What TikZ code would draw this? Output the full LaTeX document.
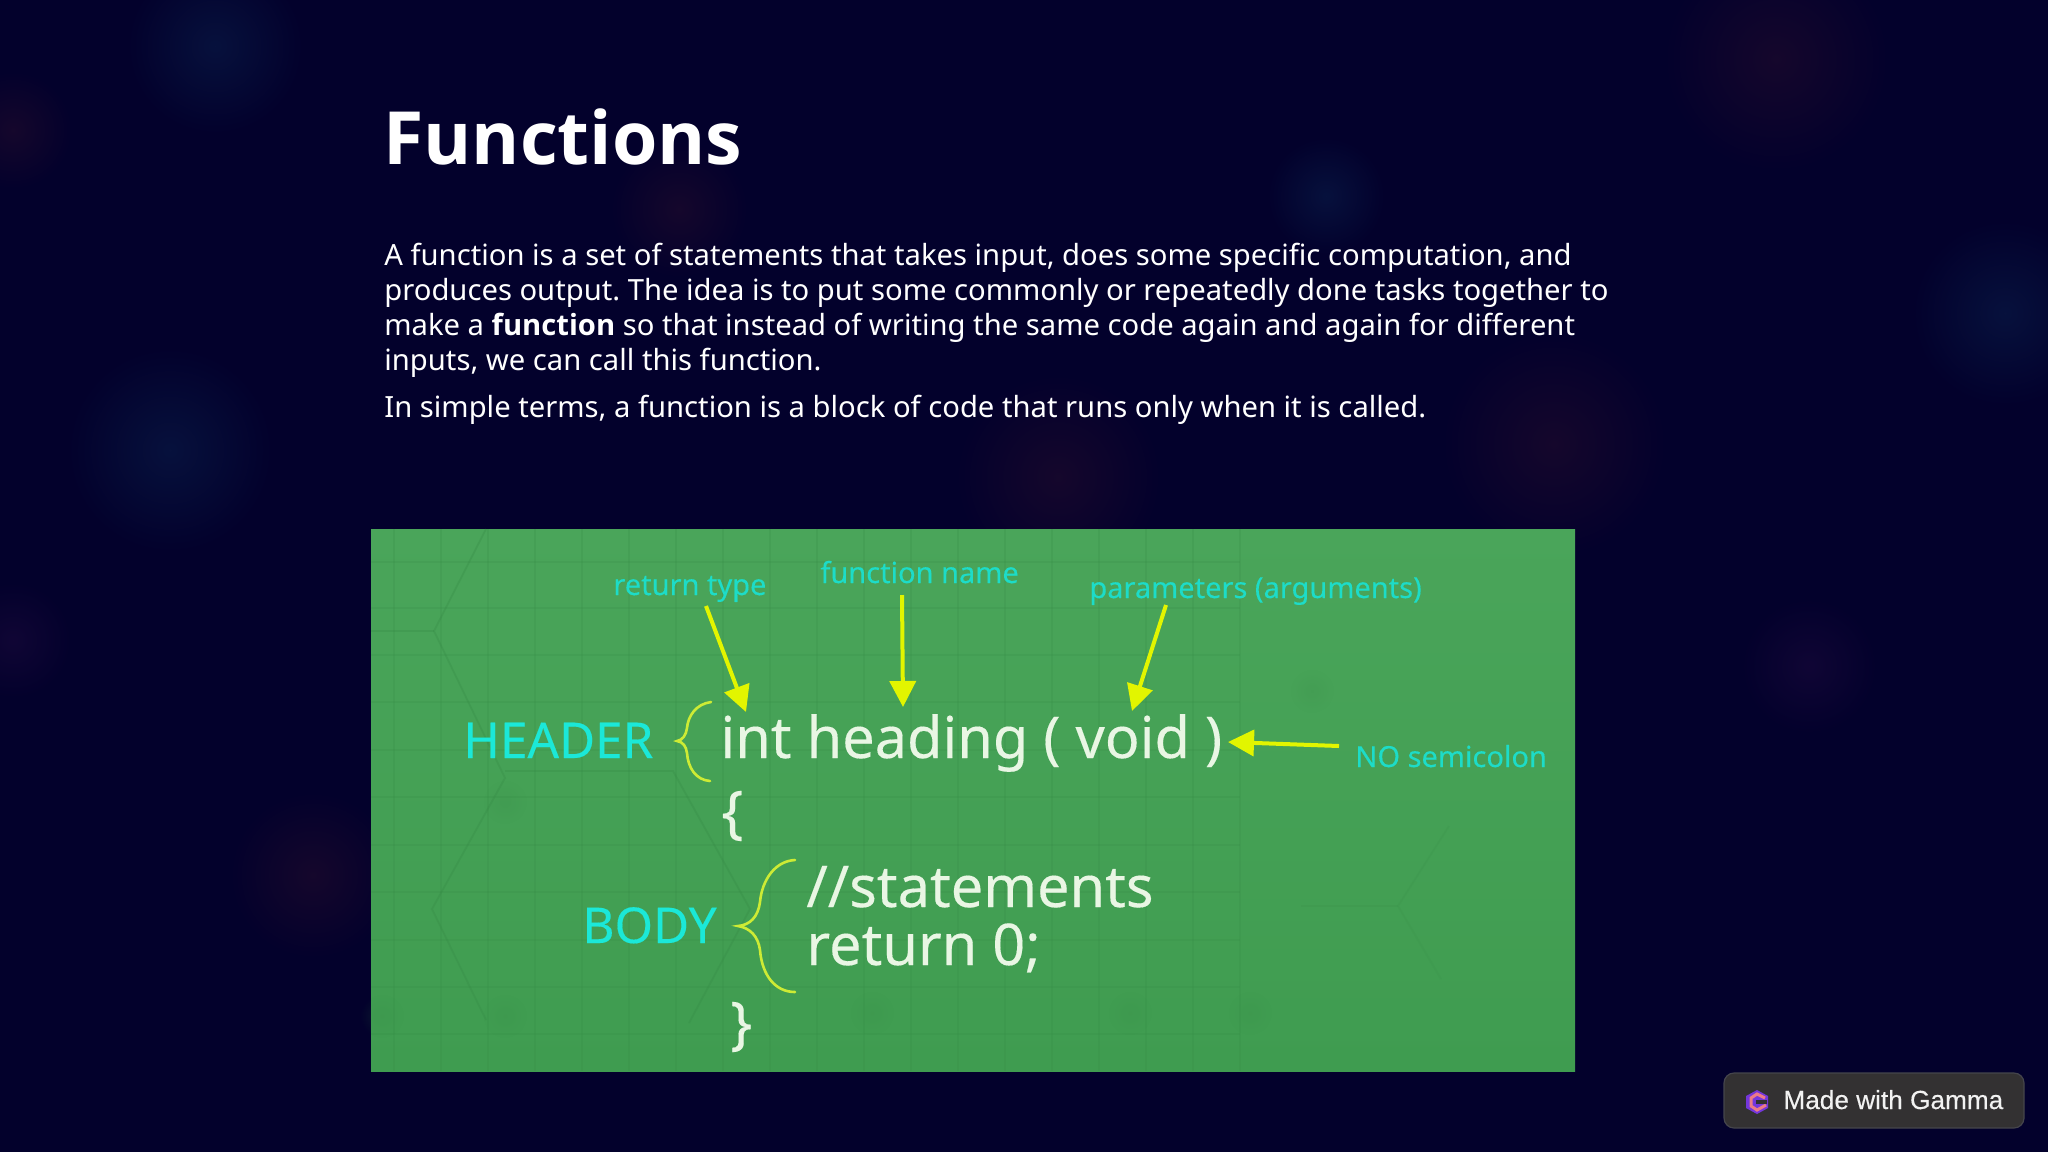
\documentclass[tikz,border=0pt]{standalone}
\usepackage{fontspec}
\setmainfont[BoldFont={Open Sans Bold}]{Noto Sans}
\newfontfamily\badgefont[FakeBold=0.3]{Liberation Sans}
\newfontfamily\shotfont[FakeBold=0.25]{Noto Sans}
\usetikzlibrary{arrows.meta,fadings}
\definecolor{navy}{HTML}{03012C}
\definecolor{glowblue}{HTML}{0C2552}
\definecolor{glowred}{HTML}{2C0F2E}
\definecolor{glowpurple}{HTML}{200C40}
\definecolor{greenhi}{HTML}{4AA55A}
\definecolor{greenlo}{HTML}{3F9C50}
\definecolor{gridgreen}{HTML}{358A45}
\definecolor{labelcyan}{HTML}{1DDCC8}
\definecolor{sidecyan}{HTML}{1BE8D8}
\definecolor{codewhite}{HTML}{E9F6E4}
\definecolor{arrowyellow}{HTML}{E2F500}
\definecolor{bracelime}{HTML}{CDEB35}
\definecolor{badgegray}{HTML}{333132}
\definecolor{badgeedge}{HTML}{45454C}
\definecolor{iconviolet}{HTML}{7436DC}
\definecolor{iconpink}{HTML}{EC7A86}
\tikzfading[name=glow, inner color=transparent!55, outer color=transparent!100]
\tikzset{>={Triangle[length=13pt,width=13pt]},
  txt/.style={anchor=base west, inner sep=0pt},
  label/.style={txt, text=labelcyan, font=\fontsize{14.5}{18}\selectfont\shotfont},
  side/.style={txt, text=sidecyan, font=\fontsize{24.7}{30}\selectfont\shotfont},
  code/.style={txt, text=codewhite, font=\fontsize{28.8}{35}\selectfont\shotfont},
  pointer/.style={->, arrowyellow, line width=2pt},
  curly/.style={bracelime, line width=1.3pt, line cap=round},
  faint/.style={gridgreen, opacity=0.2, line width=0.6pt},
  hexline/.style={gridgreen, opacity=0.3, line width=0.9pt},
  glowspot/.style={path fading=glow, fill=#1}}

\begin{document}
\begin{tikzpicture}[x=0.5pt,y=-0.5pt]
      \fill[navy] (0,0) rectangle (2048,1152);
      \useasboundingbox (0,0) rectangle (2048,1152);
      \fill[glowspot=glowblue] (215,46) circle (90);
      \fill[glowspot=glowblue] (170,450) circle (105);
      \fill[glowspot=glowred] (1776,59) circle (115);
      \fill[glowspot=glowblue] (2005,313) circle (95);
      \fill[glowspot=glowred] (1554,444) circle (115);
      \fill[glowspot=glowred] (1058,477) circle (105);
      \fill[glowspot=glowred] (313,875) circle (85);
      \fill[glowspot=glowpurple] (1809,666) circle (70);
      \fill[glowspot=glowred] (679,209) circle (70);
      \fill[glowspot=glowblue] (1326,196) circle (60);
      \fill[glowspot=glowred] (13,130) circle (60);
      \fill[glowspot=glowpurple] (13,640) circle (60);

      \node[txt, text=white, font=\fontsize{36.7}{44}\selectfont\bfseries] (title) at (383,164) {Functions};
      \node[txt, text=white, font=\fontsize{14.6}{17.5}\selectfont\frenchspacing, align=left, anchor=north west] (intro) at (384,243)
        {A function is a set of statements that takes input, does some specific computation, and\\
         produces output. The idea is to put some commonly or repeatedly done tasks together to\\
         make a \textbf{function} so that instead of writing the same code again and again for different\\
         inputs, we can call this function.};
      \node[txt, text=white, font=\fontsize{14.6}{17.5}\selectfont] (simple) at (384,417)
        {In simple terms, a function is a block of code that runs only when it is called.};

      \shade[top color=greenhi, bottom color=greenlo] (371,529) rectangle (1575,1071);
      \foreach \gx in {394,441,...,1240}
        \draw[faint] (\gx,529) -- (\gx,1071);
      \foreach \gy in {562,608,655,702,750,797,845,892,940,987,1034}
        \draw[faint] (371,\gy) -- (1240,\gy);
      \draw[hexline] (486,529) -- (434,631) -- (505,778) -- (432,909) -- (486,1020);
      \draw[hexline] (434,631) -- (371,631);
      \draw[hexline] (505,771) -- (673,771) -- (750,909) -- (689,1023);
      \draw[hexline, opacity=0.15] (1449,826) -- (1398,906) -- (1441,979);
      \draw[hexline, opacity=0.15] (1398,906) -- (1301,906);
      \foreach \sx/\sy in {382/1016,505/1016,505/802,872/1013,1130/1013,1250/1013,1312/691}
        \fill[glowspot=gridgreen, fill opacity=0.4] (\sx,\sy) circle (22);

      \node[label] (rtype) at (613,595) {return type};
      \node[label] (fname) at (820,583) {function name};
      \node[label] (params) at (1089,598) {parameters (arguments)};
      \node[label] (nosemi) at (1355,767) {NO semicolon};
      \node[side] (header) at (463,758) {HEADER};
      \node[side] (body) at (582,943) {BODY};
      \node[code] (sig) at (720,758) {int heading ( void )};
      \node[code] (lbrace) at (721,832) {\{};
      \node[code] (stmts) at (806,907) {//statements};
      \node[code] (ret) at (806,965) {return 0;};
      \node[code] (rbrace) at (730,1043) {\}};

      \coordinate (rtail) at (706,606);
      \coordinate (rtip) at (746,712);
      \coordinate (ftail) at (902,595);
      \coordinate (ftip) at (903,707);
      \coordinate (ptail) at (1166,605);
      \coordinate (ptip) at (1132,711);
      \coordinate (ntail) at (1339,746);
      \coordinate (ntip) at (1228,742);
      \draw[pointer] (rtail) -- (rtip);
      \draw[pointer] (ftail) -- (ftip);
      \draw[pointer] (ptail) -- (ptip);
      \draw[pointer] (ntail) -- (ntip);

      \draw[curly] (711,702) .. controls (696,704) and (688,716) .. (687,728) .. controls (686,735) and (683,740) .. (677,741)
        .. controls (683,742) and (686,746) .. (687,753) .. controls (688,768) and (696,780) .. (710,781);
      \draw[curly] (795,860) .. controls (775,861) and (762,880) .. (760,902) .. controls (758,917) and (750,925) .. (738,926)
        .. controls (750,928) and (758,936) .. (760,950) .. controls (762,975) and (775,992) .. (795,992);

      \draw[badgeedge, fill=badgegray, rounded corners=5pt, line width=0.6pt] (1724,1073) rectangle (2024,1128);
      \fill[iconviolet] (1757,1090) -- (1768,1096) -- (1768,1108) -- (1757,1114) -- (1746,1108) -- (1746,1096) -- cycle;
      \draw[iconpink, line width=1.5pt] (1765,1098) -- (1757,1094) -- (1751,1098) -- (1751,1106) -- (1757,1110) -- (1766,1105);
      \fill[badgegray] (1756,1100) rectangle (1767,1104);
      \node[txt, text=white!95!black, font=\fontsize{13.1}{16}\selectfont\badgefont] (gamma) at (1783,1109) {Made with Gamma};
\end{tikzpicture}
\end{document}
